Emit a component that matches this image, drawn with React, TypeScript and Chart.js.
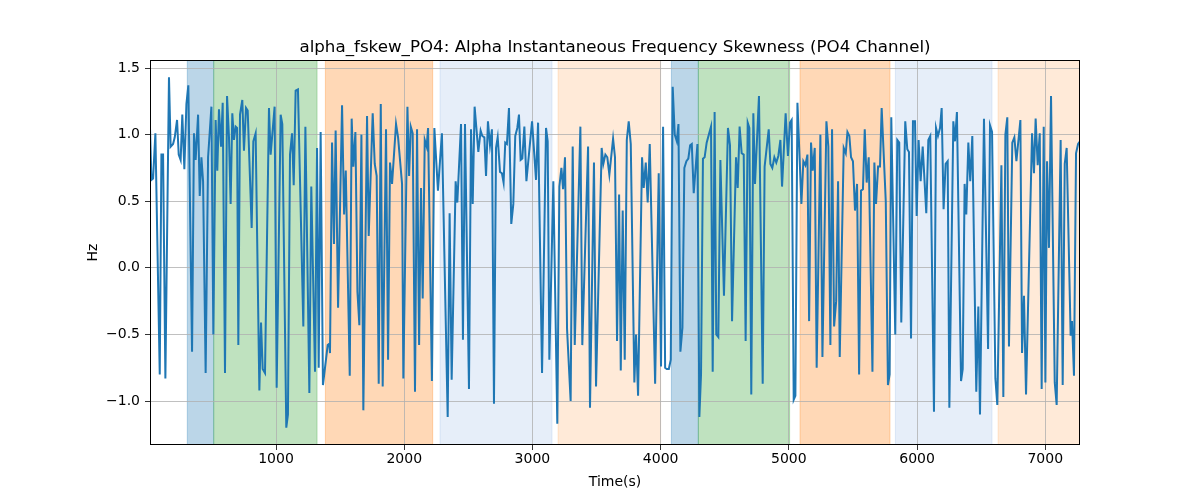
import React, { useEffect, useRef } from "react";
import { Chart, registerables } from "chart.js";

Chart.register(...registerables);

const TITLE = "alpha_fskew_PO4: Alpha Instantaneous Frequency Skewness (PO4 Channel)";
const X_LABEL = "Time(s)";
const Y_LABEL = "Hz";

const X_MIN = 17;
const X_MAX = 7271;
const Y_MIN = -1.33;
const Y_MAX = 1.56;

const xTicks = [1000, 2000, 3000, 4000, 5000, 6000, 7000];
const yTicks = [-1.0, -0.5, 0.0, 0.5, 1.0, 1.5];

const times = [
  17, 28, 41, 59, 93, 106, 119, 137, 165, 178, 197, 210, 228, 241, 256, 269, 285, 301, 316, 345,
  360, 373, 392, 405, 418, 431, 451, 470, 496, 511, 529, 542, 555, 571, 584, 602, 618, 633, 646, 659,
  672, 685, 696, 706, 719, 737, 750, 766, 779, 810, 823, 841, 870, 883, 896, 914, 945, 958, 989, 1005,
  1036, 1049, 1080, 1093, 1109, 1125, 1138, 1153, 1171, 1213, 1229, 1260, 1275, 1304, 1320, 1333, 1348, 1366, 1403, 1416,
  1421, 1437, 1452, 1465, 1484, 1515, 1531, 1544, 1575, 1590, 1603, 1619, 1635, 1650, 1666, 1681, 1710, 1723, 1754, 1770,
  1785, 1801, 1817, 1832, 1858, 1874, 1889, 1905, 1936, 1952, 1983, 1993, 2025, 2038, 2051, 2066, 2084, 2100, 2116, 2131,
  2144, 2160, 2175, 2186, 2216, 2235, 2263, 2294, 2339, 2354, 2370, 2401, 2414, 2443, 2458, 2474, 2505, 2521, 2534, 2549,
  2578, 2596, 2609, 2625, 2638, 2653, 2669, 2684, 2700, 2716, 2729, 2747, 2762, 2775, 2788, 2801, 2817, 2835, 2851, 2866,
  2882, 2895, 2908, 2921, 2937, 2953, 2997, 3028, 3044, 3075, 3106, 3119, 3132, 3163, 3194, 3210, 3226, 3239, 3254, 3270,
  3298, 3314, 3330, 3374, 3389, 3434, 3449, 3480, 3496, 3540, 3553, 3569, 3584, 3600, 3629, 3644, 3660, 3676, 3689, 3704,
  3720, 3736, 3751, 3767, 3795, 3808, 3824, 3855, 3868, 3884, 3899, 3915, 3957, 3985, 4003, 4019, 4035, 4048, 4064, 4079,
  4094, 4110, 4126, 4139, 4154, 4170, 4185, 4201, 4216, 4230, 4243, 4258, 4287, 4302, 4315, 4330, 4343, 4359, 4376, 4393,
  4406, 4421, 4434, 4450, 4466, 4494, 4525, 4541, 4557, 4588, 4601, 4616, 4632, 4648, 4663, 4679, 4692, 4707, 4723, 4736,
  4767, 4796, 4811, 4843, 4856, 4871, 4887, 4902, 4918, 4934, 4947, 4975, 4993, 5009, 5022, 5038, 5051, 5067, 5098, 5113,
  5129, 5145, 5158, 5173, 5186, 5202, 5217, 5246, 5262, 5293, 5308, 5324, 5337, 5353, 5369, 5384, 5397, 5428, 5444, 5457,
  5472, 5485, 5500, 5516, 5532, 5548, 5563, 5578, 5592, 5607, 5623, 5652, 5667, 5680, 5696, 5711, 5724, 5756, 5773, 5786,
  5799, 5830, 5846, 5861, 5877, 5908, 5924, 5937, 5953, 5968, 5984, 5997, 6012, 6028, 6044, 6072, 6088, 6103, 6132, 6148,
  6163, 6179, 6192, 6207, 6223, 6239, 6252, 6283, 6296, 6311, 6343, 6356, 6371, 6384, 6400, 6415, 6431, 6462, 6478, 6491,
  6522, 6554, 6569, 6585, 6611, 6626, 6658, 6673, 6689, 6704, 6717, 6743, 6759, 6775, 6806, 6819, 6834, 6850, 6897, 6912,
  6925, 6941, 6957, 6972, 6988, 7001, 7014, 7029, 7045, 7074, 7089, 7120, 7136, 7152, 7167, 7198, 7209, 7224, 7240, 7256,
  7271,
];

const values = [
  1.05, 0.66, 0.67, 1.01, -0.80, 0.85, 0.85, -0.83, 1.43, 0.91, 0.93, 0.98, 1.11, 0.85, 0.81, 1.15, 0.74, 1.23, 1.37, -0.63,
  1.01, 0.81, 1.15, 0.54, 0.83, 0.65, -0.79, 0.83, 1.21, -0.50, 1.11, 0.73, 1.19, 0.91, 1.24, -0.79, 1.29, 0.98, 0.48, 1.16,
  0.96, 1.06, 1.05, -0.58, 1.15, 1.26, 0.88, 1.20, 1.18, 0.30, 0.95, 1.01, -0.92, -0.41, -0.76, -0.79, 1.20, 0.85, 1.21, -0.90,
  1.15, 1.08, -1.20, -1.10, 0.85, 1.01, 0.62, 1.33, 1.34, -0.44, 1.06, -0.94, 0.61, -0.78, 0.90, -0.75, 1.02, -0.88, -0.58, -0.57,
  -0.64, 0.94, 0.18, 1.03, -0.30, 1.22, 0.40, 0.73, -0.81, 1.12, 0.76, 1.02, -0.18, -0.43, 1.00, -1.07, 1.14, 0.24, 1.16, 0.78,
  0.69, -0.87, 1.23, -0.89, 1.04, -0.69, 0.79, 0.63, 1.08, 0.98, 0.63, -0.83, 1.21, 0.69, 1.06, 1.01, -0.93, 1.04, -0.58, 0.60,
  -0.23, 0.96, 0.91, 1.05, -0.85, 1.05, 0.58, 1.01, -1.12, 0.41, -0.84, 0.65, 0.49, 1.08, -0.54, 1.08, -0.91, 1.04, 0.48, 1.21,
  0.87, 1.03, 0.99, 0.98, 0.69, 1.10, 0.92, 1.04, -1.02, 0.90, 0.98, 0.72, 0.71, 0.64, 0.94, 0.93, 1.20, 0.33, 0.48, 0.99,
  1.05, 1.15, 0.81, 0.82, 1.06, 0.65, 1.10, 0.66, 1.09, -0.79, 1.05, 0.95, -0.69, 0.65, -1.17, 0.61, 0.75, 0.59, 0.83, -0.46,
  -1.00, 0.91, -0.58, 1.06, -0.58, 0.91, -1.05, 0.79, -0.89, 0.90, 0.78, 0.85, 0.83, 0.70, 0.97, 0.83, -0.55, 0.55, -0.77, 0.43,
  -0.69, 0.96, 1.10, 0.93, -0.86, -0.50, -0.96, 0.83, 0.60, 0.79, 0.49, 0.93, -0.87, 0.71, -0.74, 1.06, -0.75, -0.76, -0.76, -0.69,
  1.36, 1.00, 0.95, 1.08, -0.63, -0.45, 0.75, 0.80, 0.82, 0.92, 0.93, 0.56, 0.93, -1.12, -0.80, 0.82, 0.83, 0.94, 1.00, 1.06,
  -0.78, 1.17, -0.50, -0.52, 0.81, -0.21, 1.05, 0.92, -0.40, 0.83, 0.60, 1.06, 0.86, 0.85, -0.55, 1.09, 1.05, -0.95, 1.16, 0.63,
  1.29, -0.87, 0.76, 1.04, 0.78, 0.75, 0.83, 0.79, 0.84, 0.96, 0.61, 1.16, 0.84, 1.09, 1.11, -0.99, -0.96, 1.24, 0.48, 0.80,
  0.77, 0.85, -0.40, 0.94, 0.73, 0.90, -0.75, 1.00, -0.67, 1.10, 0.91, -0.58, 1.04, -0.44, -0.25, 0.65, -0.67, 0.90, 0.86, 1.02,
  0.99, 0.83, 0.80, 0.43, 0.63, -0.80, 0.58, 0.59, 1.04, 0.64, 0.83, -0.78, 0.79, 0.48, 0.76, 0.76, 1.20, 0.50, -0.88, -0.80,
  1.13, -0.50, 0.96, 0.94, -0.41, 1.10, 0.89, 0.87, -0.53, 1.10, 1.10, 0.39, 0.96, 0.65, 0.91, 0.41, 0.96, 0.99, -1.08, 1.05,
  0.99, 1.05, 1.20, 0.44, 0.78, 0.80, -1.05, 1.10, 0.95, 1.17, -0.85, -0.76, 0.63, 0.40, 0.94, 0.65, 0.99, -0.93, -0.29, -1.10,
  1.12, -0.61, 1.07, 1.02, -0.83, -1.03, 0.77, -0.97, 1.00, 1.13, -0.59, 0.94, 0.98, 0.80, 1.11, -0.64, -0.21, -0.95, 1.01, 0.71,
  1.12, 0.77, 1.01, -0.91, 1.06, -0.86, 0.80, 0.15, 1.29, -0.86, -1.03, 0.96, -0.88, 0.78, 0.90, -0.51, -0.40, -0.81, 0.86, 0.93,
  0.95,
];

const bandStarts = [308, 514, 1385, 2279, 3200, 4084, 4294, 5087, 5831, 6632];
const bandEnds = [514, 1320, 2222, 3153, 4000, 4294, 5006, 5789, 6585, 7271];
const bandColors = [
  "rgba(31,119,180,0.3)",
  "rgba(44,160,44,0.3)",
  "rgba(255,127,14,0.3)",
  "rgba(31,100,200,0.11)",
  "rgba(255,127,14,0.16)",
  "rgba(31,119,180,0.3)",
  "rgba(44,160,44,0.3)",
  "rgba(255,127,14,0.3)",
  "rgba(31,100,200,0.11)",
  "rgba(255,127,14,0.16)",
];

const bandPlugin = {
  id: "bands",
  beforeDraw(chart: any) {
    const { ctx, chartArea } = chart;
    const x = chart.scales.x;
    ctx.save();
    ctx.beginPath();
    ctx.rect(chartArea.left, chartArea.top, chartArea.right - chartArea.left, chartArea.bottom - chartArea.top);
    ctx.clip();
    bandStarts.forEach((s, i) => {
      const x0 = x.getPixelForValue(s);
      const x1 = x.getPixelForValue(bandEnds[i]);
      ctx.fillStyle = bandColors[i];
      ctx.fillRect(x0, chartArea.top, x1 - x0, chartArea.bottom - chartArea.top);
      ctx.strokeStyle = bandColors[i];
      ctx.lineWidth = 1;
      ctx.beginPath();
      ctx.moveTo(x0, chartArea.top);
      ctx.lineTo(x0, chartArea.bottom);
      ctx.moveTo(x1, chartArea.top);
      ctx.lineTo(x1, chartArea.bottom);
      ctx.stroke();
    });
    ctx.restore();
  },
};

const framePlugin = {
  id: "frame",
  afterDraw(chart: any) {
    const { ctx, chartArea } = chart;
    ctx.save();
    ctx.strokeStyle = "#000";
    ctx.lineWidth = 1;
    ctx.strokeRect(
      Math.round(chartArea.left) + 0.5,
      Math.round(chartArea.top) + 0.5,
      Math.round(chartArea.right - chartArea.left) - 1,
      Math.round(chartArea.bottom - chartArea.top) - 1
    );
    ctx.restore();
  },
};

const fmtY = (v: number) => (v < 0 ? "\u2212" : "") + Math.abs(v).toFixed(1);

export default function App() {
  const canvasRef = useRef<HTMLCanvasElement | null>(null);

  useEffect(() => {
    const canvas = canvasRef.current;
    if (!canvas) return;
    Chart.defaults.font.family = "'DejaVu Sans', sans-serif";
    Chart.defaults.color = "#000";
    const points = times.map((t, i) => ({ x: t, y: values[i] }));
    const chart = new Chart(canvas, {
      type: "line",
      data: {
        datasets: [
          {
            data: points,
            borderColor: "#1f77b4",
            borderWidth: 2,
            pointRadius: 0,
            tension: 0,
            fill: false,
          },
        ],
      },
      plugins: [bandPlugin, framePlugin],
      options: {
        animation: false,
        responsive: false,
        devicePixelRatio: 1,
        layout: { padding: { left: 0, right: 120, top: 0, bottom: 0 } },
        plugins: {
          legend: { display: false },
          tooltip: { enabled: false },
          title: {
            display: true,
            fullSize: false,
            text: TITLE,
            color: "#000",
            font: { size: 16.7, weight: "normal", family: "'DejaVu Sans', sans-serif" },
            padding: { top: 38, bottom: 2 },
          },
        },
        scales: {
          x: {
            type: "linear",
            min: X_MIN,
            max: X_MAX,
            afterBuildTicks: (scale: any) => {
              scale.ticks = xTicks.map((v) => ({ value: v }));
            },
            afterFit: (scale: any) => {
              scale.height = 55;
            },
            ticks: {
              color: "#000",
              font: { size: 14 },
              padding: 1,
              maxRotation: 0,
              autoSkip: false,
              callback: (v: any) => String(v),
            },
            grid: {
              color: "#b0b0b0",
              lineWidth: 0.8,
              drawTicks: true,
              tickLength: 5,
              tickColor: "#000",
            },
            border: { display: false },
            title: {
              display: true,
              text: X_LABEL,
              color: "#000",
              font: { size: 14 },
              padding: { top: 0, bottom: 9 },
            },
          },
          y: {
            type: "linear",
            min: Y_MIN,
            max: Y_MAX,
            afterBuildTicks: (scale: any) => {
              scale.ticks = yTicks.map((v) => ({ value: v }));
            },
            afterFit: (scale: any) => {
              scale.width = 150;
            },
            ticks: {
              color: "#000",
              font: { size: 14 },
              padding: 5,
              autoSkip: false,
              callback: (v: any) => fmtY(Number(v)),
            },
            grid: {
              color: "#b0b0b0",
              lineWidth: 0.8,
              drawTicks: true,
              tickLength: 5,
              tickColor: "#000",
            },
            border: { display: false },
            title: {
              display: true,
              text: Y_LABEL,
              color: "#000",
              font: { size: 14 },
              padding: { top: 85, bottom: 0 },
            },
          },
        },
      },
    } as any);
    return () => chart.destroy();
  }, []);

  return (
    <div style={{ position: "absolute", left: 0, top: 0, width: 1200, height: 500, background: "#fff" }}>
      <canvas ref={canvasRef} width={1200} height={500} style={{ width: 1200, height: 500 }} />
    </div>
  );
}
